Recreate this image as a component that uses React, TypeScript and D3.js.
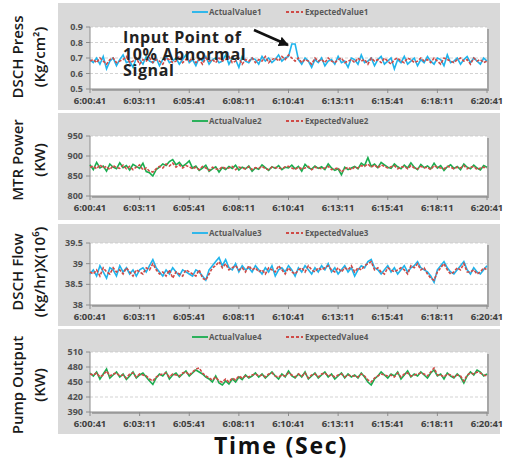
import React, { useRef, useEffect } from 'react';
import * as d3 from 'd3';

// time axis: 6:00:41 .. 6:20:41, one sample every 10 s
const tickLabels = ['6:00:41', '6:03:11', '6:05:41', '6:08:11', '6:10:41', '6:13:11', '6:15:41', '6:18:11', '6:20:41'];
const tickSeconds = [0, 150, 300, 450, 600, 750, 900, 1050, 1200];
const sampleStep = 10;

const actual1 = [
  0.69, 0.67, 0.7, 0.66, 0.71, 0.63, 0.68, 0.7, 0.65, 0.69,
  0.72, 0.67, 0.68, 0.64, 0.7, 0.69, 0.66, 0.71, 0.68, 0.67,
  0.7, 0.65, 0.69, 0.71, 0.67, 0.68, 0.7, 0.66, 0.69, 0.72,
  0.67, 0.69, 0.65, 0.7, 0.68, 0.71, 0.66, 0.69, 0.7, 0.67,
  0.68, 0.72, 0.66, 0.7, 0.69, 0.64, 0.71, 0.68, 0.67, 0.7,
  0.69, 0.66, 0.71, 0.68, 0.7, 0.67, 0.69, 0.72, 0.68, 0.7,
  0.71, 0.79, 0.79, 0.69, 0.66, 0.7, 0.68, 0.64, 0.69, 0.67,
  0.7, 0.65, 0.68, 0.69, 0.66, 0.71, 0.67, 0.68, 0.64, 0.7,
  0.69, 0.66, 0.72, 0.67, 0.68, 0.7, 0.65, 0.69, 0.71, 0.66,
  0.68, 0.7, 0.63, 0.69, 0.67, 0.71, 0.66, 0.68, 0.7, 0.65,
  0.69, 0.67, 0.71, 0.68, 0.66, 0.7, 0.69, 0.65, 0.72, 0.67,
  0.68, 0.7, 0.66, 0.69, 0.71, 0.67, 0.7, 0.68, 0.66, 0.7,
  0.68,
];
const expected1 = [
  0.68, 0.69, 0.67, 0.7, 0.68, 0.66, 0.69, 0.7, 0.67, 0.68,
  0.69, 0.71, 0.67, 0.68, 0.7, 0.66, 0.69, 0.68, 0.7, 0.67,
  0.69, 0.68, 0.66, 0.7, 0.69, 0.67, 0.68, 0.71, 0.67, 0.69,
  0.68, 0.7, 0.67, 0.69, 0.66, 0.7, 0.68, 0.69, 0.67, 0.7,
  0.68, 0.69, 0.71, 0.67, 0.68, 0.7, 0.66, 0.69, 0.68, 0.7,
  0.67, 0.69, 0.68, 0.71, 0.67, 0.69, 0.7, 0.68, 0.71, 0.69,
  0.72, 0.7, 0.68, 0.7, 0.67, 0.69, 0.68, 0.66, 0.7, 0.68,
  0.69, 0.67, 0.7, 0.68, 0.67, 0.69, 0.7, 0.67, 0.68, 0.69,
  0.67, 0.7, 0.68, 0.69, 0.66, 0.7, 0.68, 0.69, 0.67, 0.7,
  0.68, 0.66, 0.69, 0.7, 0.68, 0.67, 0.7, 0.69, 0.67, 0.68,
  0.7, 0.68, 0.69, 0.67, 0.7, 0.68, 0.66, 0.7, 0.69, 0.68,
  0.67, 0.69, 0.7, 0.68, 0.69, 0.66, 0.7, 0.68, 0.69, 0.67,
  0.68,
];

const actual2 = [
  878, 866, 884, 870, 875, 862, 880, 872, 868, 883,
  871, 876, 865, 879, 874, 869, 882, 861, 858, 850,
  866, 872, 880, 876, 886, 891, 878, 884, 874, 880,
  888, 870, 875, 864, 870, 877, 862, 868, 873, 860,
  871, 866, 874, 869, 877, 865, 872, 868, 875, 862,
  870, 867, 878, 871, 864, 873, 869, 876, 866, 872,
  870, 877, 868, 874, 862, 879, 871, 867, 875, 869,
  873, 866, 880, 870, 864, 868, 853, 872, 866, 870,
  874, 868, 882, 876, 896, 874, 880, 871, 884, 878,
  872, 869, 880, 873, 868, 877, 870, 883, 872, 866,
  879, 871, 875, 868, 882, 870, 876, 864, 873, 878,
  869, 874, 866, 880, 872, 868, 877, 870, 865, 876,
  872,
];
const expected2 = [
  872, 875, 868, 878, 870, 874, 866, 876, 871, 869,
  877, 868, 874, 866, 872, 878, 865, 870, 862, 860,
  868, 874, 870, 880, 875, 882, 872, 878, 870, 876,
  873, 868, 872, 866, 874, 870, 864, 872, 868, 866,
  873, 869, 870, 874, 866, 872, 870, 868, 873, 866,
  871, 869, 874, 868, 866, 872, 871, 870, 868, 873,
  874, 870, 866, 872, 868, 870, 874, 866, 872, 870,
  868, 870, 874, 866, 868, 870, 860, 868, 872, 866,
  872, 870, 876, 874, 880, 872, 878, 870, 878, 874,
  870, 873, 876, 868, 872, 874, 868, 876, 870, 868,
  874, 870, 872, 866, 876, 872, 870, 868, 874, 872,
  868, 872, 870, 876, 868, 872, 874, 866, 870, 872,
  870,
];

const actual3 = [
  38.75, 38.85, 38.7, 38.95, 38.8, 38.65, 38.9, 38.85, 38.7, 38.95,
  38.8, 38.9, 38.75, 38.85, 38.7, 38.85, 38.9, 38.8, 38.95, 39.1,
  38.9, 38.8, 38.7, 38.85, 38.75, 38.9, 38.8, 38.7, 38.85, 38.8,
  38.75, 38.7, 38.85, 38.8, 38.7, 38.6, 38.85, 38.95, 39.05, 39.15,
  38.95, 39.1, 38.9, 38.85, 39.0, 38.8, 38.95, 38.85, 38.9, 38.8,
  38.95, 38.85, 38.75, 38.9, 38.8, 38.95, 38.7, 38.85, 38.9, 38.8,
  38.95, 38.85, 38.7, 38.9, 38.8, 38.95, 38.85, 38.75, 38.9, 38.8,
  38.95, 38.85, 39.0, 38.8, 38.9, 38.75, 38.85, 38.95, 38.8, 38.9,
  38.7, 38.85, 38.95, 38.9, 39.05, 39.1, 38.9, 38.85, 38.75, 38.85,
  38.95, 38.8, 38.9, 38.75, 38.85, 38.95, 38.8, 38.9, 38.95, 39.05,
  38.9, 38.85, 38.8, 38.7, 38.55, 38.85, 38.95, 39.05, 38.9, 38.8,
  38.75, 38.85, 38.95, 39.05, 38.85, 38.75, 38.9, 38.8, 38.75, 38.85,
  38.95,
];
const expected3 = [
  38.8, 38.75, 38.85, 38.7, 38.9, 38.8, 38.75, 38.9, 38.8, 38.85,
  38.75, 38.9, 38.8, 38.7, 38.85, 38.8, 38.75, 38.9, 38.85, 39.0,
  38.85, 38.75, 38.8, 38.7, 38.85, 38.65, 38.8, 38.75, 38.7, 38.85,
  38.8, 38.75, 38.7, 38.85, 38.65, 38.6, 38.75, 38.9, 38.95, 39.05,
  38.9, 39.0, 38.85, 38.9, 38.95, 38.85, 38.9, 38.8, 38.95, 38.85,
  38.9, 38.8, 38.85, 38.75, 38.9, 38.85, 38.8, 38.95, 38.85, 38.75,
  38.9, 38.8, 38.75, 38.85, 38.9, 38.8, 38.95, 38.85, 38.8, 38.9,
  38.85, 38.9, 38.95, 38.85, 38.8, 38.9, 38.8, 38.9, 38.85, 38.95,
  38.8, 38.9, 38.85, 38.95, 39.0, 39.05, 38.85, 38.9, 38.8, 38.75,
  38.9, 38.85, 38.8, 38.85, 38.9, 38.85, 38.75, 38.95, 38.9, 39.0,
  38.85, 38.9, 38.75, 38.65, 38.6, 38.8, 38.9, 39.0, 38.85, 38.75,
  38.8, 38.9, 38.85, 39.0, 38.8, 38.8, 38.85, 38.75, 38.8, 38.9,
  38.85,
];

const actual4 = [
  468, 462, 470, 456, 466, 476, 458, 464, 470, 460,
  466, 455, 462, 470, 458, 464, 468, 460, 452, 445,
  458, 466, 462, 470, 456, 464, 468, 460, 466, 472,
  462, 468, 474, 470, 466, 460, 456, 450, 462, 448,
  444, 452, 446, 456, 450, 460, 455, 464, 458, 462,
  468, 460, 466, 458, 464, 470, 462, 456, 466, 460,
  472, 462, 458, 466, 460, 470, 456, 462, 468, 458,
  464, 470, 460, 466, 456, 462, 468, 458, 466, 460,
  464, 458, 468, 460, 450, 444, 456, 462, 470, 464,
  458, 466, 462, 470, 456, 464, 472, 460, 466, 462,
  470, 464, 458, 468, 474, 462, 466, 456, 468, 462,
  458, 466, 460, 448, 462, 470, 464, 474, 470, 462,
  466,
];
const expected4 = [
  466, 464, 468, 460, 464, 472, 462, 466, 468, 462,
  464, 458, 466, 468, 460, 466, 464, 462, 456, 452,
  460, 464, 466, 468, 460, 466, 464, 462, 468, 470,
  464, 470, 476, 478, 468, 462, 458, 454, 460, 452,
  450, 456, 450, 458, 454, 462, 458, 462, 460, 464,
  466, 462, 464, 460, 466, 468, 462, 460, 464, 462,
  468, 464, 460, 466, 462, 468, 458, 464, 466, 460,
  466, 468, 462, 464, 460, 464, 466, 460, 464, 462,
  462, 460, 466, 462, 454, 450, 458, 462, 466, 464,
  462, 464, 460, 468, 460, 466, 468, 462, 464, 466,
  468, 466, 462, 470, 478, 464, 464, 460, 466, 464,
  460, 464, 462, 452, 464, 468, 466, 470, 468, 464,
  462,
];

const annotationLines = ['Input Point of', '10% Abnormal', 'Signal'];

const panels = [
  { actual: actual1, expected: expected1, n: 1, color: '#1fb4ec', domain: [0.5, 0.9], ticks: [0.5, 0.6, 0.7, 0.8, 0.9], fmt: (v: number) => v.toFixed(1), title: ['DSCH Press', '(Kg/cm²)'] },
  { actual: actual2, expected: expected2, n: 2, color: '#1aad4f', domain: [800, 950], ticks: [800, 850, 900, 950], fmt: (v: number) => String(v), title: ['MTR Power', '(KW)'] },
  { actual: actual3, expected: expected3, n: 3, color: '#1fb4ec', domain: [38, 39.5], ticks: [38, 38.5, 39, 39.5], fmt: (v: number) => String(v), title: ['DSCH Flow', '(Kg/hr)X(10⁶)'] },
  { actual: actual4, expected: expected4, n: 4, color: '#1aad4f', domain: [390, 510], ticks: [390, 420, 450, 480, 510], fmt: (v: number) => String(v), title: ['Pump Output', '(KW)'] },
];

// layout of the four stacked Excel-style boxes
const boxes = [
  { top: 3, bottom: 110, legendY: 12, plotTop: 27, plotBottom: 89, titleY: 57 },
  { top: 113, bottom: 220, legendY: 121, plotTop: 136, plotBottom: 196, titleY: 160 },
  { top: 224, bottom: 326, legendY: 233, plotTop: 243, plotBottom: 305, titleY: 272 },
  { top: 329, bottom: 434, legendY: 337, plotTop: 352, plotBottom: 412, titleY: 385 },
];

const FONT = '"Open Sans", "DejaVu Sans", sans-serif';
const RED = '#cf4b47';

const App = () => {
  const svgRef = useRef<SVGSVGElement>(null);

  useEffect(() => {
    const svg = d3.select(svgRef.current);
    svg.selectAll('*').remove();

    const x = d3.scaleLinear().domain([0, 1200]).range([90, 487]);

    panels.forEach((p, i) => {
      const b = boxes[i];
      const g = svg.append('g');

      g.append('rect')
        .attr('x', 58).attr('y', b.top)
        .attr('width', 442).attr('height', b.bottom - b.top)
        .attr('fill', '#d9d9d9');

      const y = d3.scaleLinear().domain(p.domain).range([b.plotBottom, b.plotTop]);

      // plot area with a soft shadow
      g.append('rect')
        .attr('x', 92).attr('y', b.plotTop + 2)
        .attr('width', 397).attr('height', b.plotBottom - b.plotTop)
        .attr('fill', '#a6a6a6');
      g.append('rect')
        .attr('x', 90).attr('y', b.plotTop)
        .attr('width', 397).attr('height', b.plotBottom - b.plotTop)
        .attr('fill', '#fff');

      // gridlines
      g.selectAll('.grid')
        .data(p.ticks.slice(1))
        .join('line')
        .attr('x1', 90).attr('x2', 487)
        .attr('y1', (d) => y(d)).attr('y2', (d) => y(d))
        .attr('stroke', '#c8c8c8')
        .attr('stroke-dasharray', '3,2')
        .attr('stroke-width', 0.8);

      // axes
      g.append('line')
        .attr('x1', 90).attr('x2', 90)
        .attr('y1', b.plotTop).attr('y2', b.plotBottom)
        .attr('stroke', '#8c8c8c');
      g.append('line')
        .attr('x1', 90).attr('x2', 487)
        .attr('y1', b.plotBottom).attr('y2', b.plotBottom)
        .attr('stroke', '#8c8c8c');

      g.selectAll('.ytick')
        .data(p.ticks)
        .join('line')
        .attr('x1', 86).attr('x2', 90)
        .attr('y1', (d) => y(d)).attr('y2', (d) => y(d))
        .attr('stroke', '#8c8c8c');
      g.selectAll('.ylab')
        .data(p.ticks)
        .join('text')
        .attr('x', 83)
        .attr('y', (d) => y(d))
        .attr('dy', '0.35em')
        .attr('text-anchor', 'end')
        .attr('font-family', FONT)
        .attr('font-weight', 700)
        .attr('font-size', 9)
        .attr('fill', '#505050')
        .text((d) => p.fmt(d));

      g.selectAll('.xtick')
        .data(tickSeconds)
        .join('line')
        .attr('x1', (d) => x(d)).attr('x2', (d) => x(d))
        .attr('y1', b.plotBottom).attr('y2', b.plotBottom + 4)
        .attr('stroke', '#8c8c8c');
      g.selectAll('.xlab')
        .data(tickSeconds)
        .join('text')
        .attr('x', (d) => x(d))
        .attr('y', b.plotBottom + 15)
        .attr('text-anchor', 'middle')
        .attr('font-family', FONT)
        .attr('font-weight', 700)
        .attr('font-size', 9.5)
        .attr('fill', '#404040')
        .text((d, k) => tickLabels[k]);

      const line = d3
        .line<number>()
        .x((d, k) => x(k * sampleStep))
        .y((d) => y(d));

      g.append('path')
        .datum(p.actual)
        .attr('fill', 'none')
        .attr('stroke', p.color)
        .attr('stroke-width', 1.6)
        .attr('d', line);
      g.append('path')
        .datum(p.expected)
        .attr('fill', 'none')
        .attr('stroke', RED)
        .attr('stroke-width', 1.6)
        .attr('stroke-dasharray', '3,1.5')
        .attr('d', line);

      // legend
      const leg = g.append('g').attr('font-family', FONT).attr('font-weight', 700).attr('font-size', 8).attr('fill', '#595959');
      leg.append('line').attr('x1', 192).attr('x2', 208).attr('y1', b.legendY).attr('y2', b.legendY)
        .attr('stroke', p.color).attr('stroke-width', 1.8);
      leg.append('text').attr('x', 209).attr('y', b.legendY).attr('dy', '0.35em').text(`ActualValue${p.n}`);
      leg.append('line').attr('x1', 286).attr('x2', 303).attr('y1', b.legendY).attr('y2', b.legendY)
        .attr('stroke', RED).attr('stroke-width', 1.8).attr('stroke-dasharray', '3,2');
      leg.append('text').attr('x', 305).attr('y', b.legendY).attr('dy', '0.35em').text(`ExpectedValue${p.n}`);

      // rotated y title, two lines
      const t = g.append('text')
        .attr('transform', `translate(18,${b.titleY}) rotate(-90)`)
        .attr('text-anchor', 'middle')
        .attr('font-family', FONT)
        .attr('font-weight', 600)
        .attr('font-size', 15)
        .attr('fill', '#1a1a1a');
      t.append('tspan').attr('x', 0).attr('dy', '0.35em').text(p.title[0]);
      t.append('tspan').attr('x', 0).attr('dy', 22).text(p.title[1]);
    });

    // annotation on the first panel
    const ann = svg.append('text')
      .attr('font-family', FONT)
      .attr('font-weight', 700)
      .attr('font-size', 16)
      .attr('letter-spacing', 0.6)
      .attr('fill', '#222');
    annotationLines.forEach((s, k) => {
      ann.append('tspan').attr('x', 123).attr('y', 43 + k * 16.5).text(s);
    });
    svg.append('defs').append('marker')
      .attr('id', 'arrowhead')
      .attr('viewBox', '0 0 10 10')
      .attr('refX', 9).attr('refY', 5)
      .attr('markerWidth', 4).attr('markerHeight', 4)
      .attr('orient', 'auto')
      .append('path').attr('d', 'M0,0 L10,5 L0,10 z').attr('fill', '#111');
    svg.append('line')
      .attr('x1', 254).attr('y1', 30)
      .attr('x2', 288).attr('y2', 45)
      .attr('stroke', '#111').attr('stroke-width', 2.5)
      .attr('marker-end', 'url(#arrowhead)');

    svg.append('text')
      .attr('x', 281).attr('y', 454)
      .attr('text-anchor', 'middle')
      .attr('font-family', FONT)
      .attr('font-weight', 700)
      .attr('font-size', 23)
      .attr('letter-spacing', 1.8)
      .attr('fill', '#111')
      .text('Time (Sec)');
  }, []);

  return (
    <svg
      ref={svgRef}
      width={508}
      height={463}
      style={{ position: 'absolute', left: 0, top: 0, background: '#fff' }}
    />
  );
};

export default App;
